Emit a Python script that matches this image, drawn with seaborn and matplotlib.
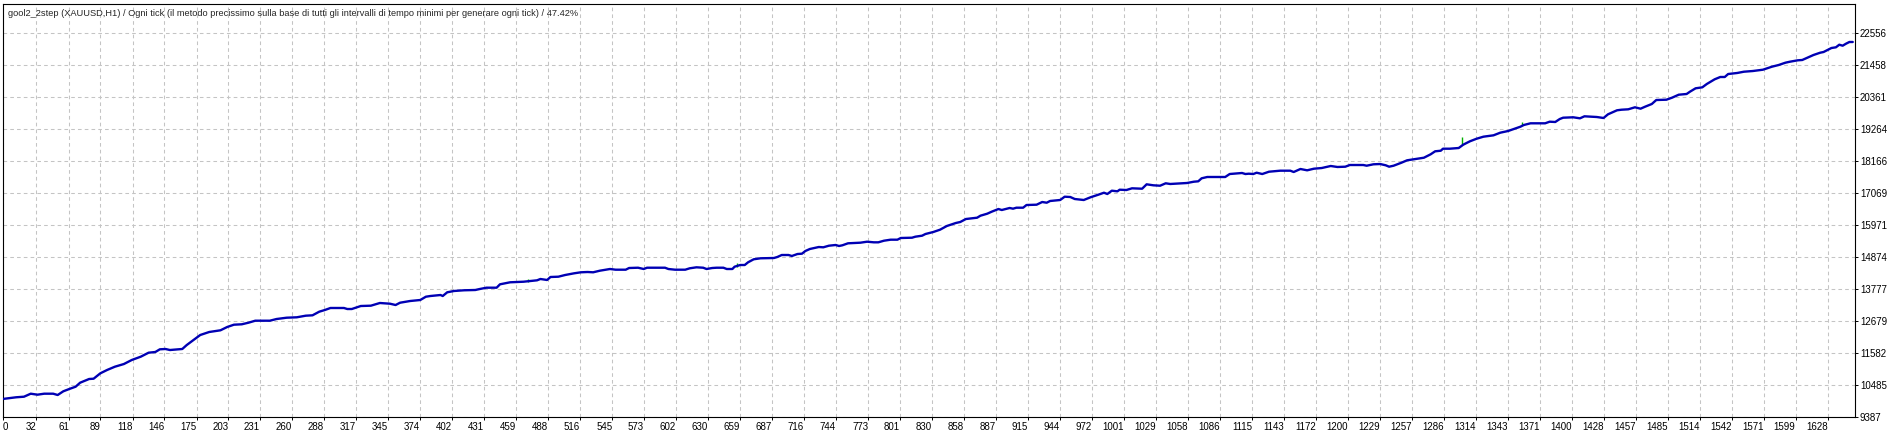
import numpy as np
import pandas as pd
import seaborn as sns
import matplotlib
matplotlib.use("Agg")
import matplotlib.pyplot as plt

# balance curve (trade number, balance)
trade = [3, 14, 21, 27, 33, 39, 47, 51, 56, 62, 67, 71, 79, 83, 89, 95, 102, 110, 117, 125,
         132, 138, 142, 147, 151, 162, 166, 172, 178, 186, 196, 202, 208, 215, 221, 227, 234, 240, 246, 255,
         264, 272, 278, 284, 289, 294, 306, 309, 313, 321, 330, 338, 347, 352, 356, 365, 374, 379, 383, 392,
         394, 398, 404, 413, 423, 427, 433, 442, 445, 454, 466, 478, 481, 487, 490, 497, 503, 511, 517, 523,
         528, 534, 543, 548, 557, 560, 568, 573, 576, 592, 595, 601, 610, 614, 620, 626, 629, 634, 638, 644,
         647, 652, 654, 659, 663, 666, 671, 677, 689, 692, 696, 702, 705, 710, 714, 717, 721, 729, 733, 738,
         744, 747, 750, 755, 766, 772, 778, 782, 787, 793, 799, 802, 812, 815, 821, 824, 831, 837, 843, 851,
         855, 860, 870, 873, 879, 883, 889, 892, 899, 902, 905, 911, 914, 923, 928, 932, 935, 944, 948, 953,
         957, 965, 971, 978, 983, 986, 990, 995, 997, 1003, 1008, 1017, 1021, 1027, 1033, 1038, 1042, 1057, 1063, 1067,
         1070, 1075, 1091, 1095, 1106, 1109, 1112, 1116, 1119, 1124, 1130, 1140, 1149, 1152, 1158, 1164, 1170, 1177, 1185, 1191,
         1198, 1202, 1214, 1217, 1223, 1229, 1234, 1237, 1241, 1248, 1253, 1259, 1268, 1274, 1278, 1283, 1285, 1291, 1299, 1303,
         1309, 1315, 1321, 1330, 1336, 1343, 1348, 1354, 1357, 1363, 1376, 1380, 1385, 1389, 1392, 1401, 1407, 1411, 1422, 1428,
         1432, 1440, 1444, 1450, 1456, 1461, 1465, 1471, 1475, 1484, 1489, 1495, 1502, 1505, 1510, 1516, 1520, 1527, 1532, 1536,
         1539, 1547, 1553, 1561, 1570, 1578, 1584, 1590, 1594, 1601, 1605, 1609, 1615, 1621, 1624, 1627, 1631, 1635, 1638, 1641,
         1644, 1647, 1650]
balance = [10010, 10063, 10083, 10186, 10152, 10186, 10186, 10141, 10268, 10357, 10426, 10563, 10690, 10700, 10885, 10999, 11112, 11204, 11342, 11455,
           11592, 11616, 11708, 11719, 11684, 11719, 11856, 12027, 12199, 12302, 12360, 12473, 12552, 12566, 12621, 12689, 12689, 12689, 12747, 12792,
           12806, 12861, 12874, 12998, 13056, 13125, 13125, 13090, 13090, 13193, 13204, 13296, 13272, 13227, 13306, 13365, 13399, 13512, 13536, 13570,
           13536, 13663, 13708, 13732, 13742, 13776, 13821, 13821, 13937, 14006, 14026, 14074, 14119, 14085, 14188, 14198, 14256, 14314, 14349, 14359,
           14349, 14404, 14462, 14438, 14438, 14496, 14506, 14462, 14506, 14506, 14462, 14438, 14438, 14486, 14520, 14506, 14462, 14496, 14506, 14506,
           14462, 14462, 14541, 14599, 14599, 14692, 14795, 14829, 14839, 14873, 14942, 14942, 14908, 14976, 14987, 15079, 15148, 15216, 15206, 15261,
           15285, 15251, 15275, 15343, 15364, 15398, 15377, 15377, 15432, 15467, 15467, 15525, 15535, 15570, 15604, 15662, 15731, 15810, 15936, 16039,
           16074, 16176, 16221, 16290, 16358, 16427, 16519, 16485, 16554, 16530, 16564, 16564, 16656, 16667, 16759, 16735, 16794, 16828, 16941, 16931,
           16862, 16828, 16921, 17010, 17078, 17034, 17147, 17126, 17181, 17171, 17229, 17215, 17366, 17332, 17318, 17401, 17377, 17411, 17455, 17469,
           17572, 17617, 17617, 17719, 17754, 17719, 17730, 17719, 17764, 17719, 17798, 17833, 17833, 17788, 17891, 17846, 17901, 17925, 17994, 17960,
           17970, 18028, 18028, 18004, 18052, 18062, 18018, 17970, 18004, 18107, 18189, 18224, 18278, 18395, 18498, 18518, 18587, 18587, 18611, 18724,
           18841, 18930, 18999, 19046, 19136, 19194, 19263, 19342, 19400, 19458, 19458, 19513, 19503, 19605, 19650, 19664, 19629, 19698, 19674, 19640,
           19767, 19904, 19924, 19938, 20007, 19959, 20027, 20120, 20257, 20267, 20336, 20439, 20463, 20542, 20658, 20692, 20806, 20967, 21046, 21046,
           21148, 21183, 21227, 21251, 21296, 21399, 21457, 21536, 21570, 21618, 21629, 21697, 21800, 21879, 21903, 21961, 22040, 22064, 22153, 22119,
           22188, 22246, 22246]

# equity spikes (green) above the balance line
spike_trade = [470, 656, 1302, 1355]
spike_low = [14026, 14541, 18714, 19400]
spike_high = [14119, 14657, 18999, 19513]

y_ticks = [9387, 10485, 11582, 12679, 13777, 14874, 15971, 17069, 18166, 19264, 20361, 21458, 22556]
x_labels = ["0", "32", "61", "89", "118", "146", "175", "203", "231", "260", "288", "317", "345", "374",
            "402", "431", "459", "488", "516", "545", "573", "602", "630", "659", "687", "716", "744", "773",
            "801", "830", "858", "887", "915", "944", "972", "1001", "1029", "1058", "1086", "1115", "1143",
            "1172", "1200", "1229", "1257", "1286", "1314", "1343", "1371", "1400", "1428", "1457", "1485",
            "1514", "1542", "1571", "1599", "1628"]

title = ("gool2_2step (XAUUSD,H1) / Ogni tick (il metodo precissimo sulla base di tutti gli "
         "intervalli di tempo minimi per generare ogni tick) / 47.42%")

df = pd.DataFrame({"trade": trade, "balance": balance})

sns.set_style("white")
plt.rcParams["font.family"] = ["Liberation Sans", "DejaVu Sans"]

fig = plt.figure(figsize=(19, 4.34), dpi=100)
ax = fig.add_axes([3 / 1900, 1 - 417 / 434, 1852 / 1900, 413 / 434])

x_lo, x_hi = 2.3, 1652
ax.set_xlim(x_lo, x_hi)
ax.set_ylim(9387, 23549)

xpos = [x_lo] + [float(s) for s in x_labels[1:]]
ax.set_xticks(xpos)
ax.set_xticklabels(x_labels)
for i, lab in enumerate(ax.get_xticklabels()):
    lab.set_ha("left" if i == 0 else "right")
ax.set_yticks(y_ticks)
ax.set_yticklabels([str(v) for v in y_ticks])
ax.yaxis.tick_right()

ax.grid(True, color="#c4c4c4", linestyle=(0, (3.5, 3)), linewidth=0.75)
ax.set_axisbelow(True)
ax.tick_params(axis="both", labelsize=7, colors="black", length=2.5, width=0.7, pad=1,
               direction="out")
ax.tick_params(axis="x", bottom=True, top=False)
ax.tick_params(axis="y", right=True, left=False)

ax.vlines(spike_trade, spike_low, spike_high, color="#00b000", linewidth=1.0, zorder=3)
sns.lineplot(data=df, x="trade", y="balance", ax=ax, color="#0000b4", linewidth=1.7,
             estimator=None, sort=False, zorder=4)
ax.set_xlabel("")
ax.set_ylabel("")

for sp in ax.spines.values():
    sp.set_color("black")
    sp.set_linewidth(0.8)

ax.text(0.0027, 0.978, title, transform=ax.transAxes, fontsize=6.7, va="center", ha="left")

fig.savefig("out.png", dpi=100)
